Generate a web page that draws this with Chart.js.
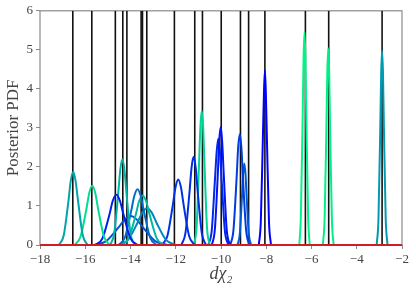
<!DOCTYPE html>
<html>
<head>
<meta charset="utf-8">
<script src="https://cdn.jsdelivr.net/npm/chart.js@4/dist/chart.umd.min.js"></script>
<style>
  html, body { margin: 0; padding: 0; background: #fff; }
  #wrap { width: 416px; height: 291px; }
</style>
</head>
<body>
<div id="wrap"><canvas id="myChart" width="416" height="291"></canvas></div>
<script>
// true values (black vertical lines)
const truthX = [-16.55, -15.71, -14.67, -14.34, -14.16, -13.53, -13.47, -13.28, -12.06,
  -11.16, -10.82, -9.99, -9.14, -8.78, -8.06, -6.27, -5.24, -2.88];

// posterior curves, [x, pdf]
const pdfA = [[-17.16,0],[-16.95,0.25],[-16.74,1.14],[-16.64,1.65],[-16.53,1.87],[-16.43,1.65],[-16.32,1.14],[-16.11,0.25],[-15.90,0]];
const pdfB = [[-16.47,0],[-16.21,0.21],[-15.95,0.92],[-15.82,1.34],[-15.69,1.52],[-15.56,1.34],[-15.43,0.92],[-15.17,0.21],[-14.91,0]];
const pdfC = [[-15.55,0],[-15.24,0.17],[-14.93,0.78],[-14.78,1.14],[-14.62,1.29],[-14.47,1.14],[-14.31,0.78],[-14.00,0.17],[-13.69,0]];
const pdfD = [[-14.90,0],[-14.72,0.30],[-14.54,1.34],[-14.45,1.94],[-14.36,2.20],[-14.27,1.94],[-14.18,1.34],[-14.00,0.30],[-13.82,0]];
const pdfE = [[-14.53,0],[-14.25,0.19],[-13.97,0.87],[-13.83,1.26],[-13.69,1.43],[-13.55,1.26],[-13.41,0.87],[-13.13,0.19],[-12.85,0]];
const pdfF = [[-14.39,0],[-14.08,0.17],[-13.77,0.77],[-13.62,1.12],[-13.46,1.27],[-13.31,1.12],[-13.15,0.77],[-12.84,0.17],[-12.53,0]];
const pdfG = [[-14.53,0],[-14.11,0.13],[-13.69,0.57],[-13.48,0.83],[-13.27,0.94],[-13.06,0.83],[-12.85,0.57],[-12.43,0.13],[-12.01,0]];
const pdfH = [[-15.61,0],[-15.07,0.10],[-14.53,0.45],[-14.26,0.65],[-13.99,0.74],[-13.72,0.65],[-13.45,0.45],[-12.91,0.10],[-12.37,0]];
const pdfI = [[-12.61,0],[-12.37,0.23],[-12.13,1.02],[-12.01,1.48],[-11.89,1.68],[-11.77,1.48],[-11.65,1.02],[-11.41,0.23],[-11.17,0]];
const pdfJ = [[-11.75,0],[-11.57,0.31],[-11.39,1.37],[-11.30,1.99],[-11.21,2.26],[-11.12,1.99],[-11.03,1.37],[-10.85,0.31],[-10.67,0]];
const pdfK = [[-11.20,0],[-11.08,0.46],[-10.97,2.09],[-10.91,3.03],[-10.85,3.44],[-10.79,3.03],[-10.73,2.09],[-10.62,0.46],[-10.50,0]];
const pdfL = [[-10.40,0],[-10.27,0.41],[-10.14,1.83],[-10.08,2.66],[-10.01,3.02],[-9.95,2.66],[-9.88,1.83],[-9.75,0.41],[-9.62,0]];
const pdfL2 = [[-10.56,0],[-10.41,0.37],[-10.27,1.65],[-10.19,2.40],[-10.12,2.72],[-10.05,2.40],[-9.97,1.65],[-9.83,0.37],[-9.68,0]];
const pdfM = [[-9.59,0],[-9.45,0.38],[-9.31,1.72],[-9.24,2.51],[-9.17,2.84],[-9.10,2.51],[-9.03,1.72],[-8.89,0.38],[-8.75,0]];
const pdfN = [[-9.27,0],[-9.17,0.28],[-9.07,1.27],[-9.02,1.84],[-8.97,2.09],[-8.92,1.84],[-8.87,1.27],[-8.77,0.28],[-8.67,0]];
const pdfO = [[-8.33,0],[-8.24,0.60],[-8.15,2.71],[-8.10,3.94],[-8.06,4.47],[-8.02,3.94],[-7.97,2.71],[-7.88,0.60],[-7.79,0]];
const pdfP = [[-6.54,0],[-6.47,0.74],[-6.39,3.31],[-6.35,4.82],[-6.31,5.46],[-6.27,4.82],[-6.23,3.31],[-6.15,0.74],[-6.08,0]];
const pdfQ = [[-5.50,0],[-5.42,0.68],[-5.34,3.06],[-5.30,4.45],[-5.26,5.04],[-5.22,4.45],[-5.18,3.06],[-5.10,0.68],[-5.02,0]];
const pdfR = [[-3.12,0],[-3.04,0.67],[-2.96,3.02],[-2.92,4.39],[-2.88,4.98],[-2.84,4.39],[-2.80,3.02],[-2.72,0.67],[-2.64,0]];

// prior / baseline (red)
const baseX = [-18, -2];
const baseY = [0, 0];

const curves = [pdfA, pdfB, pdfC, pdfD, pdfE, pdfF, pdfG, pdfH, pdfI, pdfJ,
  pdfK, pdfL, pdfL2, pdfM, pdfN, pdfO, pdfP, pdfQ, pdfR];
const curveColours = [
  "rgb(0,165,172)", "rgb(0,222,145)", "rgb(0,30,240)", "rgb(0,178,166)",
  "rgb(0,110,200)", "rgb(0,185,162)", "rgb(0,135,188)", "rgb(0,85,212)",
  "rgb(0,50,230)", "rgb(0,45,232)", "rgb(0,212,150)", "rgb(0,20,245)",
  "rgb(0,40,235)", "rgb(0,60,225)", "rgb(0,90,210)", "rgb(0,0,255)",
  "rgb(0,245,132)", "rgb(0,240,135)", "rgb(0,155,178)",
];

const datasets = [];

datasets.push({
  data: baseX.map((x, i) => ({ x, y: baseY[i] })),
  borderColor: "rgb(205,30,40)",
  borderWidth: 2,
  order: 0,
  clip: false,
});

curves.forEach((pts, i) => {
  datasets.push({
    data: pts.map(p => ({ x: p[0], y: p[1] })),
    borderColor: curveColours[i],
    borderWidth: 2,
    cubicInterpolationMode: "monotone",
    order: 1,
  });
});

truthX.forEach(x => {
  datasets.push({
    data: [{ x, y: 0 }, { x, y: 6 }],
    borderColor: "#111",
    borderWidth: 1.6,
    order: 2,
  });
});

// box round the plot area
const frame = {
  id: "frame",
  beforeDatasetsDraw(chart) {
    const { ctx, chartArea: a } = chart;
    ctx.save();
    ctx.strokeStyle = "#8a8a8a";
    ctx.lineWidth = 1.2;
    ctx.strokeRect(a.left, a.top, a.right - a.left, a.bottom - a.top);
    ctx.restore();
  },
};

const minus = v => String(v).replace("-", "\u2212");
const serif = "'Liberation Serif', 'DejaVu Serif', serif";

new Chart(document.getElementById("myChart").getContext("2d"), {
  type: "scatter",
  data: { datasets },
  plugins: [frame],
  options: {
    responsive: false,
    animation: false,
    showLine: true,
    elements: { point: { radius: 0, hoverRadius: 0 } },
    layout: { padding: { top: 10, right: 14, left: 0, bottom: 0 } },
    plugins: { legend: { display: false }, tooltip: { enabled: false } },
    scales: {
      x: {
        type: "linear",
        min: -18,
        max: -2,
        afterFit: s => { s.height = 46; },
        ticks: {
          stepSize: 2,
          padding: 3,
          color: "#444",
          font: { family: serif, size: 13 },
          callback: minus,
        },
        grid: { drawOnChartArea: false, drawTicks: true, tickLength: 4, color: "#8a8a8a" },
        border: { display: false },
        title: {
          display: true,
          text: "d\u03c7\u2082",
          color: "#444",
          font: { family: serif, size: 18, style: "italic" },
          padding: { top: 0, bottom: 6 },
        },
      },
      y: {
        min: 0,
        max: 6,
        afterFit: s => { s.width = 40; },
        ticks: {
          stepSize: 1,
          padding: 3,
          color: "#444",
          font: { family: serif, size: 13 },
        },
        grid: { drawOnChartArea: false, drawTicks: true, tickLength: 4, color: "#8a8a8a" },
        border: { display: false },
        title: {
          display: true,
          text: "Posterior PDF",
          color: "#444",
          font: { family: serif, size: 17 },
          padding: { top: 3, bottom: 0 },
        },
      },
    },
  },
});
</script>
</body>
</html>
